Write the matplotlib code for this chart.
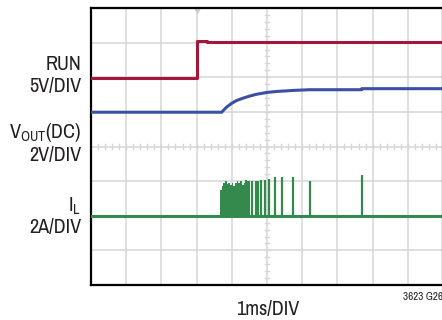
import numpy as np
import matplotlib
matplotlib.use("Agg")
import matplotlib.pyplot as plt
from matplotlib import font_manager as fm

# --------------------
# Trace data, read off the scope shot (x and y in divisions)
# --------------------
run_x = [0.0, 3.02, 3.02, 3.30, 3.30, 10.0]
run_y = [5.99, 5.99, 7.05, 7.05, 7.01, 7.01]

vout_x = [0.0, 3.71, 3.855, 4.0, 4.14, 4.33, 4.52, 4.71, 4.99, 5.28, 5.75, 6.22, 7.69, 7.69, 10.0]
vout_y = [4.99, 4.99, 5.14, 5.25, 5.33, 5.40, 5.46, 5.51, 5.56, 5.59, 5.62, 5.64, 5.64, 5.67, 5.67]

il_base = 2.0
# upper envelope of the dense switching burst
burst_x = [3.665, 3.69, 3.73, 3.79, 3.835, 3.88, 3.93, 3.98, 4.025, 4.07,
           4.12, 4.17, 4.21, 4.26, 4.31, 4.355, 4.40, 4.45, 4.50, 4.52]
burst_y = [2.73, 2.75, 2.86, 2.94, 2.99, 2.92, 2.96, 2.89, 2.94, 2.86,
           2.96, 2.99, 2.94, 3.01, 2.89, 2.96, 3.03, 2.99, 3.01, 3.01]
# single pulses after the burst
spike_x = [4.58, 4.68, 4.75, 4.84, 4.94, 5.07, 5.22, 5.43, 5.73, 6.22, 7.69]
spike_y = [3.01, 2.99, 2.99, 3.03, 3.03, 3.05, 3.11, 3.11, 3.13, 3.01, 3.18]

RED = "#a3173a"
BLUE = "#3a50a2"
GREEN = "#338a4c"
GRID = "#d6d6d6"
TXT = "#231f20"

# look for a narrow face, the scope labels are condensed
narrow = None
for f in fm.fontManager.ttflist:
    if ("Narrow" in f.name or "Condensed" in f.name) and "Mono" not in f.name:
        narrow = f.name
        break
if narrow is None:
    for f in fm.fontManager.ttflist:
        if f.stretch in ("condensed", "semi-condensed", "extra-condensed") and "Mono" not in f.name:
            narrow = f.name
            break

if narrow:
    plt.rcParams['font.family'] = [narrow, 'DejaVu Sans']
    fs = 14.5
else:
    plt.rcParams['font.family'] = ['Liberation Sans', 'DejaVu Sans']
    fs = 12.5
plt.rcParams['mathtext.fontset'] = 'custom'
plt.rcParams['mathtext.rm'] = plt.rcParams['font.family'][0]

W, H = 442, 320
fig = plt.figure(figsize=(W / 100, H / 100), dpi=100)
ax = fig.add_axes([91 / W, 35 / H, 352 / W, 277 / H])
ax.set_xlim(0, 10)
ax.set_ylim(0, 8)

# graticule
for gx in range(1, 10):
    ax.axvline(gx, color=GRID, lw=1.1, zorder=1)
for gy in range(1, 8):
    ax.axhline(gy, color=GRID, lw=1.1, zorder=1)
for t in np.arange(0.2, 10, 0.2):
    ax.plot([t, t], [3.93, 4.07], color=GRID, lw=1.0, zorder=1)
for t in np.arange(0.2, 8, 0.2):
    ax.plot([4.93, 5.07], [t, t], color=GRID, lw=1.0, zorder=1)
ax.plot([3.02], [7.93], marker='v', color="#cccccc", ms=4, zorder=1, clip_on=False)

# traces
ax.plot(run_x, run_y, color=RED, lw=2.2, zorder=3)
ax.plot(vout_x, vout_y, color=BLUE, lw=2.2, zorder=3)
ax.plot([0, 10], [il_base, il_base], color=GREEN, lw=2.2, zorder=3)
ax.fill_between(burst_x, il_base, burst_y, step='mid', color=GREEN, lw=0, zorder=3)
ax.vlines(spike_x, il_base, spike_y, color=GREEN, lw=1.6, zorder=3)

ax.set_xticks([])
ax.set_yticks([])
for s in ax.spines.values():
    s.set_linewidth(1.6)
    s.set_color("black")

# channel labels
def lab(x, y, s):
    fig.text(x / W, 1 - y / H, s, ha='right', va='baseline', fontsize=fs, color=TXT)

lab(81, 70, "RUN")
lab(81, 92, "5V/DIV")
lab(81, 138, r"V$_\mathrm{OUT}$(DC)")
lab(81, 161, "2V/DIV")
lab(81, 212, r"I$_\mathrm{L}$")
lab(81, 233, "2A/DIV")
fig.text(268 / W, 1 - 315 / H, "1ms/DIV", ha='center', va='baseline', fontsize=fs, color=TXT)
fig.text(403 / W, 1 - 300 / H, "3623 G26", ha='left', va='baseline', fontsize=8, color=TXT)

fig.savefig("out.png", dpi=100)
